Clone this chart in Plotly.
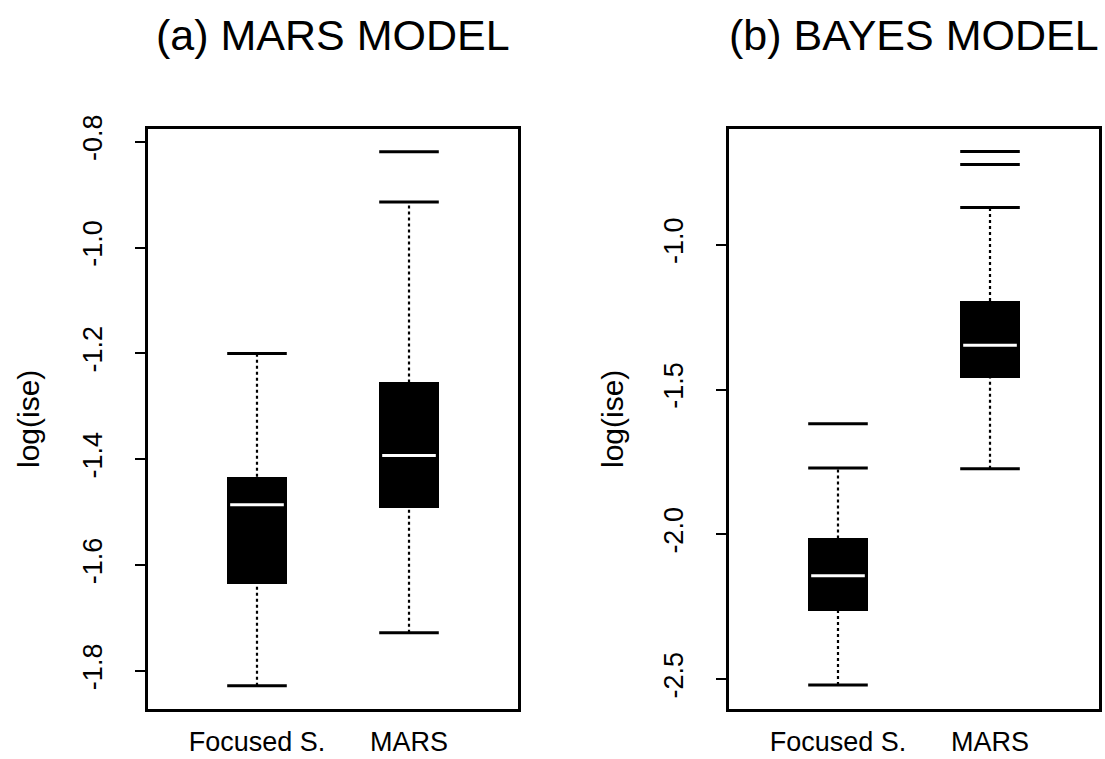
import plotly.graph_objects as go

# ---------------- data ----------------
categories = ["Focused S.", "MARS"]
positions = [1, 2]

# Panel (a) MARS MODEL
a_lower = [-1.828, -1.728]
a_q1 = [-1.636, -1.492]
a_median = [-1.486, -1.393]
a_q3 = [-1.433, -1.255]
a_upper = [-1.200, -0.914]
a_outliers = [[], [-0.819]]
a_ticks = [-1.8, -1.6, -1.4, -1.2, -1.0, -0.8]
a_ticktext = ["-1.8", "-1.6", "-1.4", "-1.2", "-1.0", "-0.8"]

# Panel (b) BAYES MODEL
b_lower = [-2.520, -1.773]
b_q1 = [-2.264, -1.461]
b_median = [-2.143, -1.347]
b_q3 = [-2.014, -1.194]
b_upper = [-1.771, -0.871]
b_outliers = [[-1.618], [-0.678, -0.723]]
b_ticks = [-2.5, -2.0, -1.5, -1.0]
b_ticktext = ["-2.5", "-2.0", "-1.5", "-1.0"]

titles = ["(a) MARS MODEL", "(b) BAYES MODEL"]
ylabel = "log(ise)"

# ---------------- style ----------------
FONT = "Liberation Sans"
HW = 0.196  # half width of box in x units
W, H = 1105, 759

fig = go.Figure()


def add_panel(xa, ya, lower, q1, med, q3, upper, outl):
    # boxes
    fig.add_trace(go.Bar(
        x=positions, y=[b - a for a, b in zip(q1, q3)], base=q1,
        width=2 * HW, marker=dict(color="black", line=dict(width=0)),
        xaxis=xa, yaxis=ya, hoverinfo="skip"))
    # whiskers (dotted)
    wx, wy = [], []
    for p, lo, a, b, up in zip(positions, lower, q1, q3, upper):
        wx += [p, p, None, p, p, None]
        wy += [lo, a, None, b, up, None]
    fig.add_trace(go.Scatter(x=wx, y=wy, mode="lines",
                             line=dict(color="black", width=2.2, dash="dot"),
                             xaxis=xa, yaxis=ya, hoverinfo="skip"))
    # caps and outliers (solid horizontal segments)
    cx, cy = [], []
    for p, lo, up, ol in zip(positions, lower, upper, outl):
        for v in [lo, up] + list(ol):
            cx += [p - HW, p + HW, None]
            cy += [v, v, None]
    fig.add_trace(go.Scatter(x=cx, y=cy, mode="lines",
                             line=dict(color="black", width=3),
                             xaxis=xa, yaxis=ya, hoverinfo="skip"))
    # medians (white)
    mx, my = [], []
    for p, m in zip(positions, med):
        mx += [p - HW * 0.9, p + HW * 0.9, None]
        my += [m, m, None]
    fig.add_trace(go.Scatter(x=mx, y=my, mode="lines",
                             line=dict(color="white", width=3),
                             xaxis=xa, yaxis=ya, hoverinfo="skip"))


add_panel("x", "y", a_lower, a_q1, a_median, a_q3, a_upper, a_outliers)
add_panel("x2", "y2", b_lower, b_q1, b_median, b_q3, b_upper, b_outliers)

ydom = [1 - 709 / H, 1 - 129 / H]
xdom_a = [148 / W, 518 / W]
xdom_b = [729 / W, 1099 / W]

xcommon = dict(range=[0.283, 2.717], tickvals=positions, ticktext=categories,
               ticks="", showline=True, mirror=True, linecolor="black",
               linewidth=2.5, showgrid=False, zeroline=False, automargin=False,
               tickfont=dict(family=FONT, size=27, color="black"),
               ticklabelstandoff=7)
ycommon = dict(ticks="outside", ticklen=10, tickwidth=2, tickcolor="black",
               showline=True, mirror=True, linecolor="black", linewidth=2.5,
               showgrid=False, zeroline=False, tickangle=-90, automargin=False,
               tickfont=dict(family=FONT, size=27, color="black"),
               ticklabelstandoff=22)

fig.update_layout(
    width=W, height=H,
    margin=dict(l=0, r=0, t=0, b=0, autoexpand=False),
    paper_bgcolor="white", plot_bgcolor="white",
    showlegend=False, bargap=0,
    font=dict(family=FONT, color="black"),
    xaxis=dict(domain=xdom_a, anchor="y", **xcommon),
    xaxis2=dict(domain=xdom_b, anchor="y2", **xcommon),
    yaxis=dict(domain=ydom, anchor="x", range=[-1.872, -0.776],
               tickvals=a_ticks, ticktext=a_ticktext, **ycommon),
    yaxis2=dict(domain=ydom, anchor="x2", range=[-2.603, -0.600],
                tickvals=b_ticks, ticktext=b_ticktext, **ycommon),
)

annotations = []
for t, dom in zip(titles, [xdom_a, xdom_b]):
    annotations.append(dict(text=t, x=(dom[0] + dom[1]) / 2, y=1 - 35 / H,
                            xref="paper", yref="paper", xanchor="center",
                            yanchor="middle", showarrow=False,
                            font=dict(family=FONT, size=43, color="black")))
for xc in [28, 612]:
    annotations.append(dict(text=ylabel, x=xc / W, y=(ydom[0] + ydom[1]) / 2,
                            xref="paper", yref="paper", xanchor="center",
                            yanchor="middle", textangle=-90, showarrow=False,
                            font=dict(family=FONT, size=30, color="black")))
fig.update_layout(annotations=annotations)

fig.write_html(
    "out.html",
    config={"displayModeBar": False},
    post_script="document.body.style.margin='0px';"
                "document.body.style.overflow='hidden';",
)
